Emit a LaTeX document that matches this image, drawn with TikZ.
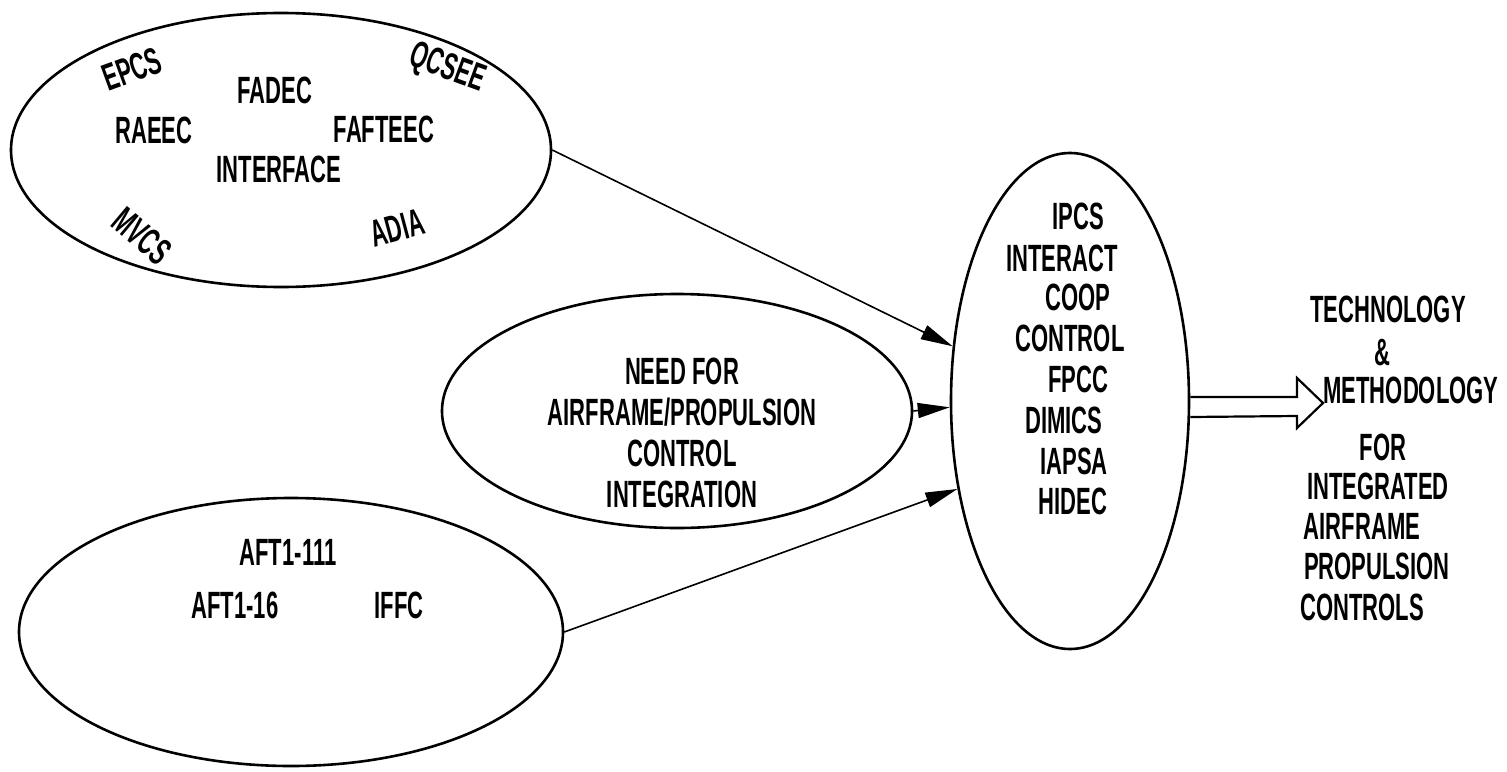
\documentclass[tikz,border=0pt]{standalone}
\usepackage{fontspec}
\newfontfamily\cf{Liberation Sans}[FakeStretch=0.58]
\usetikzlibrary{shapes.geometric,arrows.meta}
\begin{document}
\begin{tikzpicture}[x=1pt,y=-1pt,
  oval/.style={draw, ellipse, line width=2.6pt, inner sep=0pt},
  lbl/.style={font=\cf\bfseries\fontsize{38}{41}\selectfont, inner sep=0pt, align=center},
  conn/.style={line width=1.6pt, -{Triangle[length=32pt,width=15pt]}},
  hollow/.style={line width=2.2pt, line join=miter}]
\useasboundingbox (0,0) rectangle (1507,771);
% ellipses
\node[oval, minimum width=540pt, minimum height=274pt] (top) at (281,150) {};
\node[oval, minimum width=470pt, minimum height=234pt] (mid) at (677,411) {};
\node[oval, minimum width=544pt, minimum height=268pt] (bot) at (291,632) {};
\node[oval, minimum width=238pt, minimum height=496pt] (right) at (1070,401) {};
% top ellipse labels
\node[lbl, rotate=20] (epcs) at (132,69) {EPCS};
\node[lbl] (fadec) at (275,90) {FADEC};
\node[lbl, rotate=-20] (qcsee) at (447,69) {QCSEE};
\node[lbl] (raeec) at (154,130) {RAEEC};
\node[lbl] (fafteec) at (384,129) {FAFTEEC};
\node[lbl] (interface) at (279,169) {INTERFACE};
\node[lbl, rotate=-40] (mvcs) at (142,236) {MVCS};
\node[lbl, rotate=15] (adia) at (397,228) {ADIA};
% middle ellipse label
\node[lbl] (need) at (682,433) {NEED FOR\\AIRFRAME/PROPULSION\\CONTROL\\INTEGRATION};
% bottom ellipse labels
\node[lbl] (aft111) at (288,552) {AFT1-111};
\node[lbl] (aft16) at (235,605) {AFT1-16};
\node[lbl] (iffc) at (399,605) {IFFC};
% right ellipse labels
\node[lbl] (ipcs) at (1078,216) {IPCS};
\node[lbl] (interact) at (1062,258) {INTERACT};
\node[lbl] (coop) at (1078,297) {COOP};
\node[lbl] (control) at (1070,338) {CONTROL};
\node[lbl] (fpcc) at (1078,379) {FPCC};
\node[lbl] (dimics) at (1064,420) {DIMICS};
\node[lbl] (iapsa) at (1074,461) {IAPSA};
\node[lbl] (hidec) at (1073,501) {HIDEC};
% result text
\node[lbl] (tech) at (1388,309) {TECHNOLOGY};
\node[lbl] (amp) at (1382,353) {\&};
\node[lbl] (meth) at (1411,390) {METHODOLOGY};
\node[lbl] (for) at (1383,447) {FOR};
\node[lbl] (integ) at (1378,486) {INTEGRATED};
\node[lbl] (airf) at (1362,526) {AIRFRAME};
\node[lbl] (prop) at (1377,566) {PROPULSION};
\node[lbl] (ctrls) at (1362,607) {CONTROLS};
% connectors
\draw[conn] (top.east) -- (right.155);
\draw[conn] (mid.east) -- (right.183);
\draw[conn] (bot.east) -- (right.218);
% hollow arrow
\coordinate (ha) at ([yshift=4pt]right.east);
\coordinate (hb) at ([yshift=-16pt]right.east);
\draw[hollow] (ha) -- (1297,397) -- (1297,378) -- (1323,403) -- (1297,428) -- (1297,416) -- (hb);
\end{tikzpicture}
\end{document}
